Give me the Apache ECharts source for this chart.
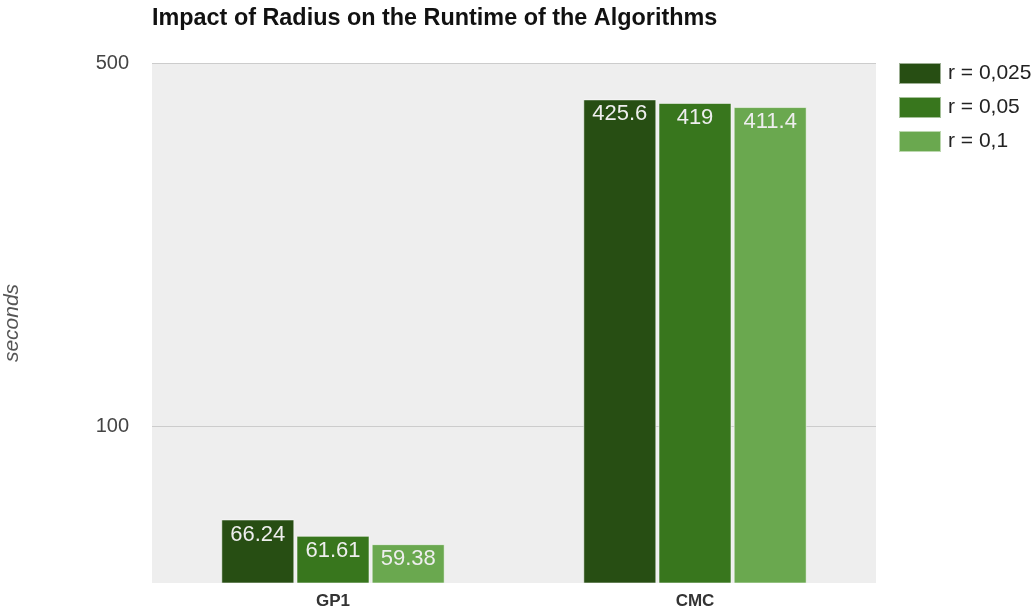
<!DOCTYPE html>
<html><head><meta charset="utf-8">
<script src="https://cdn.jsdelivr.net/npm/echarts@6/dist/echarts.min.js"></script>
<style>html,body{margin:0;padding:0;background:#fff}#c{width:1032px;height:614px}</style>
</head><body><div id="c"></div>
<script>
const categories = ['GP1', 'CMC'];
const seriesNames = ['r = 0,025', 'r = 0,05', 'r = 0,1'];
const r0025 = [66.24, 425.6];
const r005 = [61.61, 419];
const r01 = [59.38, 411.4];
const yTicks = [100, 500];
const colors = ['#274e13', '#38761d', '#6aa84f'];
const seriesData = [r0025, r005, r01];

const chart = echarts.init(document.getElementById('c'), null, {renderer: 'canvas'});
const font = 'Arial, "Liberation Sans", sans-serif';
chart.setOption({
  animation: false,
  textStyle: {fontFamily: font},
  title: {
    text: 'Impact of Radius on the Runtime of the Algorithms',
    left: 152, top: 7, padding: 0,
    textStyle: {fontSize: 23.4, fontWeight: 'bold', color: '#111', fontFamily: font}
  },
  legend: {
    orient: 'vertical', left: 898, top: 62, padding: 0,
    itemWidth: 42, itemHeight: 21, itemGap: 11,
    icon: 'rect',
    textStyle: {fontSize: 21, color: '#222', fontFamily: font, padding: [0,0,0,2]},
    data: seriesNames
  },
  grid: {left: 152, right: 156, top: 63, bottom: 31, show: true, backgroundColor: '#eeeeee', borderWidth: 0, containLabel: false, outerBoundsMode: 'none'},
  xAxis: {
    type: 'category', data: categories,
    axisLine: {show: false}, axisTick: {show: false},
    axisLabel: {fontSize: 17, fontWeight: 'bold', color: '#333', margin: 10, fontFamily: font}
  },
  yAxis: {
    type: 'log', logBase: 10, min: 50, max: 500,
    name: 'seconds', nameLocation: 'middle', nameGap: 129, nameRotate: 90,
    nameTextStyle: {fontSize: 21, fontStyle: 'italic', color: '#555', fontFamily: font},
    axisLine: {show: false},
    axisTick: {show: false, customValues: yTicks},
    axisLabel: {customValues: yTicks, fontSize: 20, color: '#444', margin: 23, fontFamily: font},
    splitLine: {show: true, lineStyle: {color: '#cccccc', width: 1}},
    minorSplitLine: {show: false}
  },
  series: seriesData.map((d, i) => ({
    name: seriesNames[i], type: 'bar', data: d,
    barWidth: 73, barGap: '3%', clip: true,
    itemStyle: {color: colors[i], borderColor: 'rgba(255,255,255,0.55)', borderWidth: 1},
    label: {show: true, position: 'insideTop', distance: 4, fontSize: 22, color: '#eeeeee', fontFamily: font}
  }))
});
</script></body></html>
